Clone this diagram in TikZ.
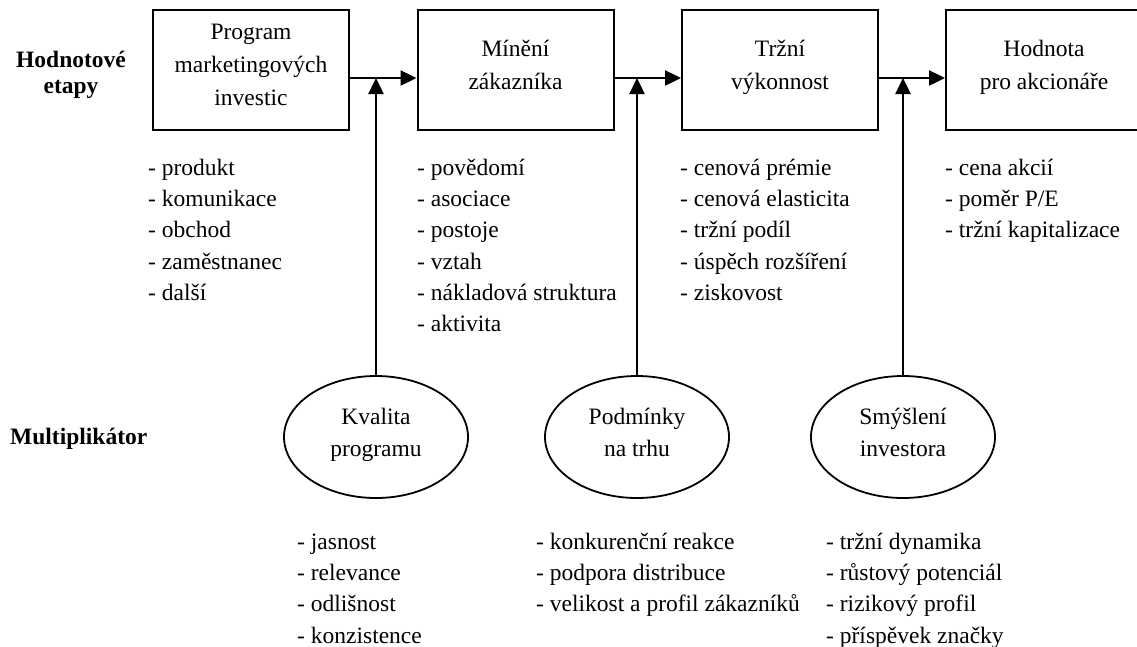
\documentclass[tikz,border=0pt]{standalone}
\usepackage{fontspec}
\setmainfont{Liberation Serif}
\usetikzlibrary{arrows.meta,shapes.geometric}
\begin{document}
\begin{tikzpicture}[x=1pt,y=-1pt,
  stage/.style={draw,line width=2pt,minimum width=196pt,minimum height=120pt,inner sep=0pt,align=center,font=\fontsize{23.5}{33}\selectfont},
  mult/.style={draw,ellipse,line width=1.8pt,minimum width=184pt,minimum height=122pt,inner sep=0pt,align=center,font=\fontsize{23.5}{32}\selectfont},
  itemlist/.style={anchor=north west,inner sep=0pt,align=left,font=\fontsize{23.5}{31.3}\selectfont},
  rowlabel/.style={inner sep=0pt,font=\bfseries\fontsize{23.5}{26}\selectfont,align=center},
  arr/.style={line width=2.4pt,-{Triangle[length=16pt,width=15pt]}}
]
\useasboundingbox (0,0) rectangle (1137,646);
\clip (0,0) rectangle (1137,646);

% row labels
\node[rowlabel,anchor=north] (hlabel) at (71,48.8) {\strut Hodnotové\\etapy};
\node[rowlabel,anchor=base west] (mlabel) at (10,444) {Multiplikátor};

% stage boxes
\node[stage] (b1) at (251,70) {Program\\marketingových\\investic\strut};
\node[stage] (b2) at (515.5,70) {Mínění\\zákazníka\strut};
\node[stage] (b3) at (780,70) {Tržní\\výkonnost\strut};
\node[stage] (b4) at (1044,70) {Hodnota\\pro akcionáře\strut};

% multipliers
\node[mult] (e1) at (376,437) {Kvalita\\programu\strut};
\node[mult] (e2) at (637,437) {Podmínky\\na trhu\strut};
\node[mult] (e3) at (903,437) {Smýšlení\\investora\strut};

% junctions
\coordinate (j1) at (376,78);
\coordinate (j2) at (637,78);
\coordinate (j3) at (903,78);

% connectors
\draw[arr] (b1.east |- j1) -- (b2.west |- j1);
\draw[arr] (b2.east |- j2) -- (b3.west |- j2);
\draw[arr] (b3.east |- j3) -- (b4.west |- j3);
\draw[arr] (e1.north) -- (j1);
\draw[arr] (e2.north) -- (j2);
\draw[arr] (e3.north) -- (j3);

% lists under stages
\node[itemlist] (l1) at (148,153.1) {\strut- produkt\\- komunikace\\- obchod\\- zaměstnanec\\- další};
\node[itemlist] (l2) at (417,153.1) {\strut- povědomí\\- asociace\\- postoje\\- vztah\\- nákladová struktura\\- aktivita};
\node[itemlist] (l3) at (680,153.1) {\strut- cenová prémie\\- cenová elasticita\\- tržní podíl\\- úspěch rozšíření\\- ziskovost};
\node[itemlist] (l4) at (945,153.1) {\strut- cena akcií\\- poměr P/E\\- tržní kapitalizace};

% lists under multipliers
\node[itemlist] (m1) at (297,527.1) {\strut- jasnost\\- relevance\\- odlišnost\\- konzistence};
\node[itemlist] (m2) at (536,527.1) {\strut- konkurenční reakce\\- podpora distribuce\\- velikost a profil zákazníků};
\node[itemlist] (m3) at (826,527.1) {\strut- tržní dynamika\\- růstový potenciál\\- rizikový profil\\- příspěvek značky};
\end{tikzpicture}
\end{document}
